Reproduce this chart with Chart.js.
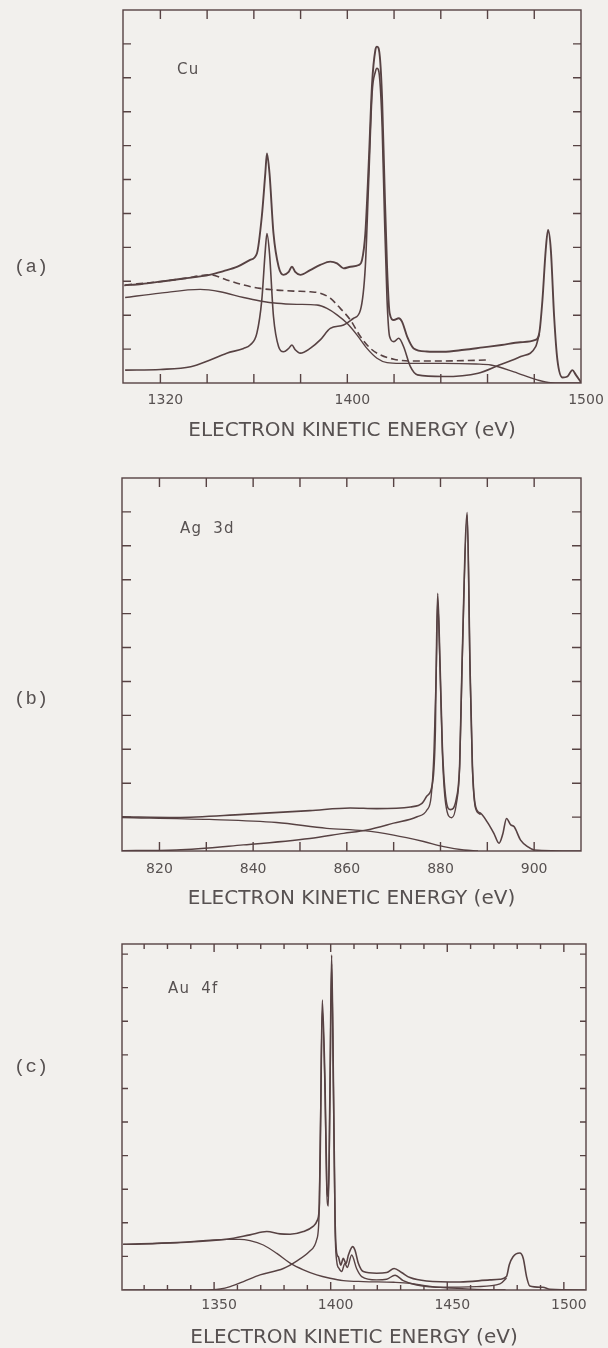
<!DOCTYPE html>
<html>
<head>
<meta charset="utf-8">
<title>Espectros XPS</title>
<script src="https://cdn.jsdelivr.net/npm/chart.js@4.4.1/dist/chart.umd.min.js"></script>
<style>
  html, body { margin: 0; padding: 0; background: #f2f0ed; }
  #page { position: relative; width: 608px; height: 1348px; overflow: hidden; background: #f2f0ed; }
  #page canvas { position: absolute; left: 0; }
  .painel { position: absolute; font-family: 'Liberation Mono', 'DejaVu Sans Mono', monospace; font-size: 19px; line-height: 19px; color: #575151; }
  .elemento { position: absolute; font-family: 'DejaVu Sans', sans-serif; font-size: 15px; line-height: 15px; letter-spacing: 1.2px; word-spacing: 5px; color: #575151; }
</style>
</head>
<body>
<div id="page">
  <canvas id="grafico-cu" width="608" height="450" style="top:0px"></canvas>
  <canvas id="grafico-ag" width="608" height="460" style="top:460px"></canvas>
  <canvas id="grafico-au" width="608" height="430" style="top:920px"></canvas>

  <div class="painel" style="left:14px; top:258px">(a)</div>
  <div class="painel" style="left:14px; top:690px">(b)</div>
  <div class="painel" style="left:14px; top:1058px">(c)</div>

  <div class="elemento" style="left:177px; top:62px">Cu</div>
  <div class="elemento" style="left:180px; top:521px">Ag 3d</div>
  <div class="elemento" style="left:168px; top:981px">Au 4f</div>
</div>

<script>
// ---- Cu (a) ----
const cuTicks = [1320, 1340, 1360, 1380, 1400, 1420, 1440, 1460, 1480, 1500];
const cuLabels = [1320, 1400, 1500];

const cuRawE = [1304.5, 1312, 1320, 1330, 1341, 1347, 1353, 1358.4, 1361.3, 1363.4, 1364.9, 1365.6, 1366.7, 1368.4,
  1370.6, 1372.7, 1374.9, 1376.3, 1377.7, 1379.9, 1384.1, 1388.4, 1392.7, 1395.6, 1398.4, 1401.3, 1404.9, 1406.3,
  1407.7, 1409.1, 1410.6, 1412.0, 1412.7, 1413.9, 1414.9, 1415.9, 1417.0, 1418.1, 1419.9, 1422.0, 1423.4, 1425.6,
  1428.4, 1434, 1441, 1450, 1458, 1466, 1474, 1480.5, 1482.2, 1483.5, 1484.9, 1485.9, 1487.1, 1488.5, 1489.9,
  1492.1, 1494.2, 1496.3, 1497.8, 1500];
const cuRawI = [2.88, 2.92, 2.99, 3.08, 3.19, 3.30, 3.43, 3.63, 3.82, 4.91, 6.18, 6.77, 6.18, 4.41,
  3.43, 3.19, 3.28, 3.43, 3.28, 3.19, 3.33, 3.48, 3.58, 3.53, 3.38, 3.43, 3.48, 3.63,
  4.41, 6.38, 8.84, 9.82, 9.92, 9.63, 8.35, 5.89, 3.43, 2.06, 1.86, 1.91, 1.81, 1.37,
  1.02, 0.93, 0.92, 0.98, 1.05, 1.12, 1.20, 1.27, 1.50, 2.45, 3.92, 4.51, 3.92, 1.96, 0.68,
  0.16, 0.19, 0.38, 0.24, 0.02];

const cuSubE = [1304.9, 1320, 1333, 1341.3, 1348.4, 1355.6, 1358.4, 1361.3, 1363.4, 1364.9, 1365.6, 1366.7, 1368.4,
  1370.6, 1372.7, 1374.9, 1376.3, 1377.7, 1379.9, 1384.1, 1388.4, 1392.7, 1398.4, 1402.7, 1405.6, 1407.7, 1409.1,
  1410.6, 1412.0, 1412.7, 1413.9, 1414.9, 1415.9, 1417.0, 1418.1, 1419.9, 1422.0, 1424.1, 1427, 1430, 1441, 1456,
  1465, 1474.2, 1480.6, 1482.2];
const cuSubI = [0.38, 0.40, 0.48, 0.68, 0.88, 1.02, 1.12, 1.47, 2.45, 3.92, 4.41, 3.82, 1.96,
  1.07, 0.92, 1.02, 1.12, 0.98, 0.88, 1.02, 1.27, 1.61, 1.71, 1.91, 2.15, 3.43, 5.89,
  8.55, 9.18, 9.28, 8.94, 7.56, 4.91, 2.45, 1.37, 1.22, 1.32, 1.07, 0.48, 0.24, 0.19, 0.29,
  0.53, 0.78, 1.07, 1.45];

const cuDashE = [1304.9, 1320, 1330, 1341.3, 1348.4, 1355.6, 1362.7, 1369.9, 1377, 1384.1, 1388.4, 1392.7, 1397,
  1401.3, 1405.6, 1409.9, 1414.1, 1419.9, 1427, 1441.3, 1455.6, 1461];
const cuDashI = [2.89, 2.99, 3.08, 3.19, 3.04, 2.89, 2.79, 2.74, 2.71, 2.69, 2.65, 2.50, 2.20,
  1.86, 1.37, 1.02, 0.83, 0.70, 0.65, 0.65, 0.67, 0.68];

const cuBgE = [1304.9, 1319.9, 1337, 1345.6, 1355.6, 1362.7, 1369.9, 1378.4, 1387, 1391.3, 1395.6, 1399.9, 1404.1,
  1408.4, 1412.7, 1417, 1422.7, 1441.3, 1455, 1461.4, 1471.3, 1481.3, 1487, 1500];
const cuBgI = [2.52, 2.65, 2.76, 2.69, 2.52, 2.42, 2.35, 2.32, 2.30, 2.20, 2.01, 1.76, 1.42,
  1.02, 0.73, 0.60, 0.58, 0.58, 0.56, 0.53, 0.33, 0.09, 0.01, 0];

// ---- Ag 3d (b) ----
const agTicks = [820, 830, 840, 850, 860, 870, 880, 890, 900];
const agLabels = [820, 840, 860, 880, 900];

const agRawE = [811.5, 823.6, 837.9, 852.1, 860.7, 866.4, 873.6, 876.1, 877.1, 878.3, 878.9, 879.1, 879.4, 879.9,
  880.4, 881.1, 882.1, 883.4, 884.1, 884.6, 885.7, 886.3, 886.8, 887.5, 888.6, 890.0, 891.4, 892.5, 893.3, 894.1,
  895.0, 895.7, 897.1, 898.6, 900, 910];
const agRawI = [1.01, 0.99, 1.08, 1.19, 1.27, 1.25, 1.30, 1.41, 1.62, 2.0, 3.57, 5.54, 7.60, 5.54,
  3.08, 1.6, 1.22, 1.55, 2.59, 5.5, 9.98, 5.5, 2.59, 1.31, 1.11, 0.85, 0.52, 0.23, 0.5, 0.96,
  0.77, 0.72, 0.32, 0.13, 0.03, 0.0];

const agSubE = [811.5, 823.6, 837.9, 852.1, 859.3, 864.3, 870.0, 875.0, 877.1, 878.0, 878.6, 879.1, 879.4, 879.9,
  880.4, 881.1, 882.4, 883.4, 884.1, 884.6, 885.7, 886.3, 886.8, 887.5, 888.6];
const agSubI = [0.01, 0.03, 0.18, 0.37, 0.52, 0.62, 0.82, 1.01, 1.21, 1.6, 2.9, 5.3, 7.4, 5.4,
  2.9, 1.4, 0.98, 1.4, 2.5, 5.4, 9.9, 5.4, 2.5, 1.25, 1.08];

const agBgE = [811.5, 830.7, 845, 855.7, 863.6, 870, 876.4, 880.7, 885, 888];
const agBgI = [0.99, 0.93, 0.84, 0.67, 0.60, 0.47, 0.28, 0.13, 0.03, 0.0];

// ---- Au 4f (c) ----
const auTicks = [1320, 1330, 1340, 1350, 1360, 1370, 1380, 1390, 1400, 1410, 1420, 1430, 1440, 1450,
  1460, 1470, 1480, 1490, 1500];
const auLabels = [1350, 1400, 1450, 1500];

const auRawE = [1311, 1334, 1355.4, 1365.4, 1372.6, 1378.3, 1382.6, 1388.3, 1392.6, 1394.3, 1395.2, 1395.7, 1396.4,
  1397.6, 1398.3, 1399.0, 1399.7, 1400.4, 1401.2, 1401.9, 1402.6, 1403.3, 1404.3, 1405.4, 1406.6, 1407.6, 1409.4,
  1410.4, 1411.9, 1414, 1419.7, 1424, 1427.2, 1430.4, 1434, 1441.1, 1455.4, 1468.3, 1472.6, 1475.4, 1476.6, 1478.2,
  1481.1, 1482.6, 1484.0, 1485.4, 1491, 1494, 1509];
const auRawI = [1.36, 1.41, 1.51, 1.64, 1.74, 1.67, 1.66, 1.74, 1.90, 2.08, 2.6, 5.06, 8.63,
  6.05, 3.27, 2.78, 6.05, 9.97, 6.05, 2.08, 1.09, 0.99, 0.74, 0.94, 0.79, 1.04, 1.29,
  1.19, 0.79, 0.55, 0.50, 0.52, 0.64, 0.52, 0.37, 0.27, 0.24, 0.30, 0.32, 0.40, 0.75, 0.99,
  1.10, 0.94, 0.40, 0.12, 0.08, 0.02, 0];

const auSubE = [1311, 1345, 1352.6, 1356.9, 1362.6, 1369.7, 1379.7, 1385.4, 1391.1, 1394.0, 1395.0, 1395.6, 1396.4,
  1397.6, 1398.3, 1399.0, 1399.7, 1400.4, 1401.2, 1401.9, 1402.6, 1403.5, 1404.7, 1406.1, 1407.1, 1409.0, 1411.1,
  1413.3, 1419.7, 1424, 1427.6, 1431.1, 1436.9, 1448.3, 1462.6, 1472.6, 1475.4];
const auSubI = [0.0, 0.0, 0.03, 0.10, 0.25, 0.45, 0.64, 0.86, 1.16, 1.5, 2.2, 4.8, 8.35,
  5.8, 3.0, 2.5, 5.8, 9.7, 5.8, 1.8, 0.85, 0.65, 0.55, 0.79, 0.67, 1.04, 0.64,
  0.40, 0.30, 0.32, 0.44, 0.28, 0.15, 0.08, 0.10, 0.18, 0.36];

const auBgE = [1311, 1334, 1355.4, 1361, 1365.4, 1371.1, 1376.9, 1382.6, 1388.3, 1394, 1399.7, 1405.4, 1414,
  1427, 1434, 1441.1, 1448.3, 1462.6, 1475];
const auBgI = [1.36, 1.41, 1.51, 1.51, 1.47, 1.34, 1.09, 0.80, 0.60, 0.45, 0.35, 0.28, 0.25,
  0.23, 0.20, 0.12, 0.07, 0.02, 0.0];

const intensityTicks = [1, 2, 3, 4, 5, 6, 7, 8, 9, 10];

const COR_LINHA = '#574243';
const COR_TEXTO = '#575151';

// moldura fechada com marcas para dentro nos quatro lados
const moldura = {
  id: 'moldura',
  afterDatasetsDraw(chart, args, opts) {
    const { ctx, chartArea: a, scales: { x, y } } = chart;
    ctx.save();
    ctx.strokeStyle = COR_LINHA;
    ctx.lineWidth = 1.4;
    ctx.strokeRect(a.left, a.top, a.right - a.left, a.bottom - a.top);
    ctx.beginPath();
    x.ticks.forEach(t => {
      const px = x.getPixelForValue(t.value);
      if (px <= a.left + 1 || px >= a.right - 1) return;
      const len = (opts.majorEvery && t.value % opts.majorEvery === 0) ? opts.majorLength : opts.length;
      ctx.moveTo(px, a.bottom); ctx.lineTo(px, a.bottom - len);
      ctx.moveTo(px, a.top); ctx.lineTo(px, a.top + len);
    });
    y.ticks.forEach(t => {
      const py = y.getPixelForValue(t.value);
      ctx.moveTo(a.left, py); ctx.lineTo(a.left + opts.yLength, py);
      ctx.moveTo(a.right, py); ctx.lineTo(a.right - opts.yLength, py);
    });
    ctx.stroke();
    ctx.restore();
  }
};

function serie(energias, valores) {
  return energias.map((e, i) => ({ x: e, y: valores[i] }));
}

function linha(energias, valores, largura, tracejado) {
  return {
    data: serie(energias, valores),
    borderColor: COR_LINHA,
    borderWidth: largura,
    borderDash: tracejado || [],
    pointRadius: 0,
    fill: false,
    cubicInterpolationMode: 'monotone'
  };
}

function criarPainel(id, cfg) {
  const canvas = document.getElementById(id);
  return new Chart(canvas.getContext('2d'), {
    type: 'line',
    data: { datasets: cfg.datasets },
    options: {
      responsive: false,
      animation: false,
      events: [],
      layout: { padding: cfg.padding },
      plugins: {
        legend: { display: false },
        tooltip: { enabled: false },
        moldura: cfg.marcas
      },
      scales: {
        x: {
          type: 'linear',
          min: cfg.xMin,
          max: cfg.xMax,
          afterBuildTicks: s => { s.ticks = cfg.ticks.map(v => ({ value: v })); },
          afterFit: s => { s.height = 60; },
          grid: { display: false, drawTicks: false },
          border: { display: false },
          ticks: {
            autoSkip: false,
            maxRotation: 0,
            minRotation: 0,
            padding: cfg.tickPadding,
            labelOffset: cfg.labelOffset,
            color: COR_TEXTO,
            font: { family: "'DejaVu Sans', sans-serif", size: 14 },
            callback: v => cfg.labels.includes(v) ? String(v) : ''
          },
          title: {
            display: true,
            text: 'ELECTRON KINETIC ENERGY (eV)',
            color: COR_TEXTO,
            padding: 0,
            font: { family: "'DejaVu Sans', sans-serif", size: 20 }
          }
        },
        y: {
          type: 'linear',
          display: false,
          min: 0,
          max: cfg.yMax,
          afterBuildTicks: s => { s.ticks = intensityTicks.map(v => ({ value: v })); }
        }
      }
    },
    plugins: [moldura]
  });
}

criarPainel('grafico-cu', {
  xMin: 1304, xMax: 1500, yMax: 11,
  ticks: cuTicks, labels: cuLabels,
  padding: { left: 123, right: 27, top: 10, bottom: 7 },
  tickPadding: 9, labelOffset: 5,
  marcas: { length: 9, yLength: 8 },
  datasets: [
    linha(cuRawE, cuRawI, 1.9),
    linha(cuDashE, cuDashI, 1.6, [7, 4]),
    linha(cuBgE, cuBgI, 1.4),
    linha(cuSubE, cuSubI, 1.6)
  ]
});

criarPainel('grafico-ag', {
  xMin: 812, xMax: 910, yMax: 11,
  ticks: agTicks, labels: agLabels,
  padding: { left: 122, right: 27, top: 18, bottom: 9 },
  tickPadding: 10, labelOffset: 0,
  marcas: { length: 9, yLength: 9 },
  datasets: [
    linha(agRawE, agRawI, 1.6),
    linha(agBgE, agBgI, 1.3),
    linha(agSubE, agSubI, 1.4)
  ]
});

criarPainel('grafico-au', {
  xMin: 1310.5, xMax: 1509.5, yMax: 10.3,
  ticks: auTicks, labels: auLabels,
  padding: { left: 122, right: 22, top: 24, bottom: 0 },
  tickPadding: 7, labelOffset: 5,
  marcas: { length: 5, majorEvery: 50, majorLength: 8, yLength: 6 },
  datasets: [
    linha(auRawE, auRawI, 1.6),
    linha(auBgE, auBgI, 1.3),
    linha(auSubE, auSubI, 1.4)
  ]
});
</script>
</body>
</html>
